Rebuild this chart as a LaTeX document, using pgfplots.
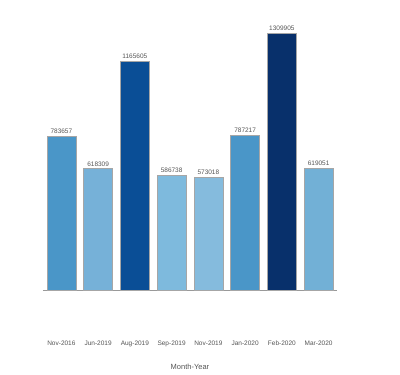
\documentclass[border=0pt]{standalone}
\usepackage{pgfplots}
\pgfplotsset{compat=1.18}
\usepackage{fontspec}
\setmainfont{Liberation Sans}
\definecolor{c1}{HTML}{4A96C8}
\definecolor{c2}{HTML}{76B1D8}
\definecolor{c3}{HTML}{0A4E96}
\definecolor{c4}{HTML}{7EBADD}
\definecolor{c5}{HTML}{85BBDD}
\definecolor{c6}{HTML}{4A96C8}
\definecolor{c7}{HTML}{08306B}
\definecolor{c8}{HTML}{72B0D6}
\definecolor{txt}{HTML}{555555}
\begin{document}
\begin{tikzpicture}
\begin{axis}[
  scale only axis,
  width=294pt, height=270pt,
  xmin=-0.5, xmax=7.5,
  ymin=0, ymax=1376166,
  axis y line=none,
  axis x line*=bottom,
  axis line style={draw=gray!80, line width=0.8pt},
  xtick={0,...,7},
  xticklabels={Nov-2016,Jun-2019,Aug-2019,Sep-2019,Nov-2019,Jan-2020,Feb-2020,Mar-2020},
  major tick length=0pt,
  xticklabel style={font=\fontsize{6.5}{7}\selectfont, text=txt, yshift=-47pt},
  xlabel={Month-Year},
  xlabel style={at={(axis description cs:0.5,0)}, anchor=center, yshift=-77pt, font=\fontsize{7.5}{9}\selectfont, text=txt},
  ybar, bar width=29pt, bar shift=0pt,
  nodes near coords,
  nodes near coords style={font=\fontsize{6.5}{7}\selectfont, text=txt, /pgf/number format/fixed, /pgf/number format/1000 sep={}, /pgf/number format/precision=0, /pgf/number format/assume math mode=true, yshift=-1pt},
  every axis plot/.append style={draw=gray!70, line width=0.5pt},
  clip=false,
]
\addplot[fill=c1] coordinates {(0,783657)};
\addplot[fill=c2] coordinates {(1,618309)};
\addplot[fill=c3] coordinates {(2,1165605)};
\addplot[fill=c4] coordinates {(3,586738)};
\addplot[fill=c5] coordinates {(4,573018)};
\addplot[fill=c6] coordinates {(5,787217)};
\addplot[fill=c7] coordinates {(6,1309905)};
\addplot[fill=c8] coordinates {(7,619051)};
\end{axis}
\pgfresetboundingbox
\path (current axis.south west) ++(-43pt,-85pt) rectangle ++(400pt,375pt);
\end{tikzpicture}
\end{document}
